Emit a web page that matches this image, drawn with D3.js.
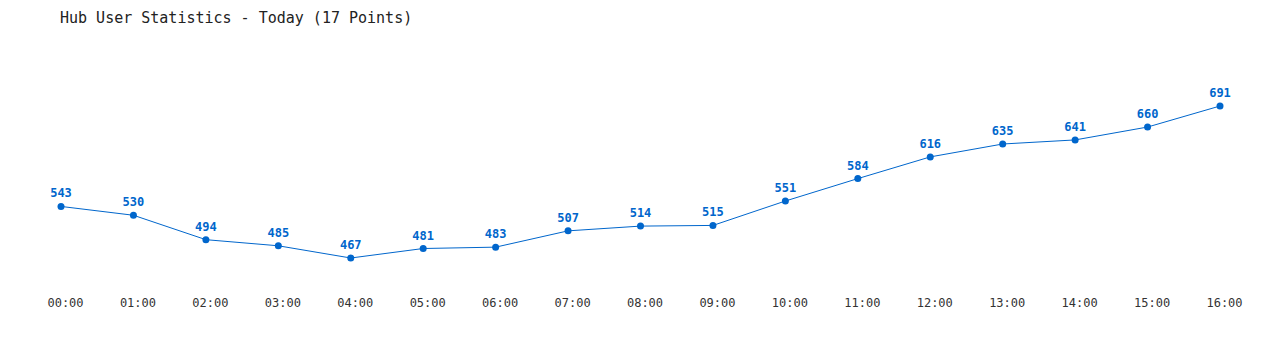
<!DOCTYPE html>
<html>
<head>
<meta charset="utf-8">
<script src="https://cdn.jsdelivr.net/npm/d3@7"></script>
<style>
  body { margin: 0; background: #fff; }
  svg { display: block; }
</style>
</head>
<body>
<svg width="1280" height="350"></svg>
<script>
var hours = ["00:00", "01:00", "02:00", "03:00", "04:00", "05:00", "06:00", "07:00", "08:00",
             "09:00", "10:00", "11:00", "12:00", "13:00", "14:00", "15:00", "16:00"];
var users = [543, 530, 494, 485, 467, 481, 483, 507, 514, 515, 551, 584, 616, 635, 641, 660, 691];
var chartTitle = "Hub User Statistics - Today (17 Points)";

var blue = "#0066cc";
var mono = "'DejaVu Sans Mono', 'Liberation Mono', monospace";

var svg = d3.select("svg");

svg.append("text")
    .attr("x", 60)
    .attr("y", 23)
    .attr("font-family", mono)
    .attr("font-size", 15)
    .attr("fill", "#222")
    .text(chartTitle);

var x = d3.scalePoint()
    .domain(hours)
    .range([61, 1220]);

var y = d3.scaleLinear()
    .domain(d3.extent(users))
    .range([258, 106]);

// x axis labels only, no line or ticks
var xAxis = svg.append("g")
    .attr("transform", "translate(4, 298)")
    .call(d3.axisBottom(x).tickSize(0).tickPadding(0));
xAxis.select(".domain").remove();
xAxis.selectAll("text")
    .attr("font-family", mono)
    .attr("font-size", 12)
    .attr("fill", "#333");

var line = d3.line()
    .x(function (d, i) { return x(hours[i]); })
    .y(function (d) { return y(d); });

svg.append("path")
    .datum(users)
    .attr("fill", "none")
    .attr("stroke", blue)
    .attr("stroke-width", 1)
    .attr("d", line);

svg.selectAll("circle.pt")
    .data(users)
    .enter().append("circle")
    .attr("class", "pt")
    .attr("cx", function (d, i) { return x(hours[i]); })
    .attr("cy", function (d) { return y(d); })
    .attr("r", 3.5)
    .attr("fill", blue);

svg.selectAll("text.val")
    .data(users)
    .enter().append("text")
    .attr("class", "val")
    .attr("x", function (d, i) { return x(hours[i]); })
    .attr("y", function (d) { return y(d) - 9; })
    .attr("text-anchor", "middle")
    .attr("font-family", mono)
    .attr("font-size", 12)
    .attr("font-weight", "bold")
    .attr("fill", blue)
    .text(function (d) { return d; });
</script>
</body>
</html>
